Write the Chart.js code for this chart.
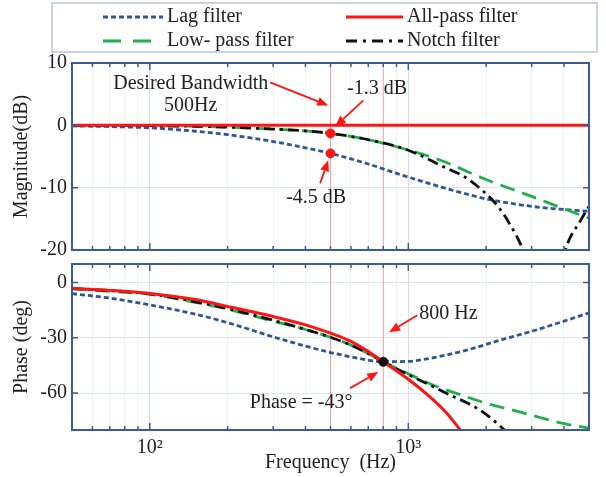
<!DOCTYPE html>
<html>
<head>
<meta charset="utf-8">
<script src="https://cdn.jsdelivr.net/npm/chart.js@4.4.0/dist/chart.umd.min.js"></script>
<style>
  html, body { margin: 0; padding: 0; background: #fff; }
  #wrap { position: relative; width: 606px; height: 477px; }
  canvas { position: absolute; left: 0; top: 0; }
</style>
</head>
<body>
<div id="wrap">
  <canvas id="magChart" width="606" height="477"></canvas>
  <canvas id="phaseChart" width="606" height="477"></canvas>
</div>
<script>
// axes
const freqTicks = [50, 60, 70, 80, 90, 100, 200, 300, 400, 500, 600, 700, 800, 900, 1000, 2000, 3000, 4000, 5000];
const magTicks = [10, 0, -10, -20];
const phaseTicks = [0, -30, -60];
const markerFreqs = [500, 800];

// magnitude (dB)
const lagMagFreq = [50, 70, 100, 150, 200, 300, 400, 500, 700, 930, 1200, 1450, 2000, 3000, 4000, 5000];
const lagMag = [-0.1, -0.2, -0.4, -0.95, -1.5, -2.6, -3.6, -4.5, -6.2, -7.9, -9.3, -10.3, -11.8, -13.0, -13.5, -13.8];
const allMagFreq = [50, 5000];
const allMag = [0, 0];
const lowMagFreq = [50, 100, 150, 200, 300, 400, 500, 700, 930, 1330, 2000, 3000, 4000, 5000];
const lowMag = [0, -0.05, -0.15, -0.3, -0.6, -0.9, -1.3, -2.3, -3.6, -5.6, -8.7, -11.4, -13.4, -14.9];
const notchMagFreq = [50, 100, 150, 200, 300, 400, 500, 700, 1000, 1330, 1700, 2000, 2150, 2400, 2780, 3000, 3300, 3600, 4050, 4650, 5000];
const notchMag = [0, -0.05, -0.15, -0.3, -0.6, -0.9, -1.3, -2.3, -4.0, -6.4, -8.6, -11.0, -12.3, -15.0, -20.0, -24.0, -35.0, -30.0, -20.0, -15.2, -13.0];
const markMagFreq = [500, 500];
const markMag = [-1.3, -4.5];

// phase (deg)
const lagPhFreq = [50, 70, 100, 150, 200, 300, 400, 500, 600, 800, 1000, 1250, 1700, 2300, 3000, 4000, 5000];
const lagPh = [-6.1, -8.5, -12.2, -17.2, -21.8, -29.5, -34.5, -38, -40.3, -43, -42.8, -40.8, -36.5, -31, -26.5, -21, -16.5];
const allPhFreq = [50, 70, 100, 150, 200, 300, 400, 500, 600, 700, 800, 1000, 1200, 1400, 1600];
const allPh = [-3.2, -4.3, -6, -9.3, -13, -18.5, -23, -27.5, -32, -37.5, -43, -52.5, -61.5, -70.5, -80.5];
const lowPhFreq = [50, 70, 100, 150, 200, 300, 400, 500, 600, 700, 800, 1000, 1250, 1600, 2000, 2500, 3000, 4000, 5000];
const lowPh = [-3.5, -4.8, -6.5, -10.8, -14.5, -21, -25.5, -29.7, -34, -38.5, -43, -49.5, -55.7, -61, -65.5, -69, -72, -76.5, -79];
const notchPhFreq = [50, 100, 150, 200, 300, 400, 500, 600, 700, 800, 1000, 1250, 1500, 1700, 2000, 2400];
const notchPh = [-3.3, -6.2, -10.5, -14.2, -20.5, -25.5, -29.7, -34, -38.5, -43, -50, -56.5, -62, -65.5, -71.5, -81];
const markPhFreq = [800];
const markPh = [-43];

const LAG = '#2f5597', LOW = '#1fb04c', ALL = '#ff1414', NOTCH = '#111111';
const FRAME = '#3a5b98';

Chart.defaults.font.family = "'Liberation Serif', 'Times New Roman', serif";
Chart.defaults.font.size = 20;
Chart.defaults.color = '#222';

function pts(xs, ys) {
    return xs.map((x, i) => ({ x: x, y: ys[i] }));
}

function curve(label, xs, ys, color, dash, width, order) {
    return {
        label: label, data: pts(xs, ys), borderColor: color, borderDash: dash,
        borderWidth: width, pointRadius: 0, fill: false, order: order,
        cubicInterpolationMode: 'monotone'
    };
}

function vlines(ymin, ymax) {
    return markerFreqs.map(f => ({
        data: [{ x: f, y: ymin }, { x: f, y: ymax }],
        borderColor: 'rgba(255, 90, 90, 0.55)', borderWidth: 1,
        pointRadius: 0, order: 20
    }));
}

function markers(xs, ys, color) {
    return {
        data: pts(xs, ys), showLine: false, pointRadius: 4.5,
        pointBackgroundColor: color, pointBorderColor: color, order: 0
    };
}

// frame + inward tick marks
const framePlugin = {
    id: 'frame',
    afterDatasetsDraw(chart) {
        const { ctx, chartArea: a, scales: { x, y } } = chart;
        ctx.save();
        ctx.strokeStyle = FRAME;
        ctx.lineWidth = 1.5;
        ctx.beginPath();
        freqTicks.forEach(f => {
            const px = x.getPixelForValue(f);
            const len = (f === 100 || f === 1000) ? 7 : 4;
            ctx.moveTo(px, a.top); ctx.lineTo(px, a.top + len);
            ctx.moveTo(px, a.bottom); ctx.lineTo(px, a.bottom - len);
        });
        y.ticks.forEach(t => {
            const py = y.getPixelForValue(t.value);
            ctx.moveTo(a.left, py); ctx.lineTo(a.left + 6, py);
            ctx.moveTo(a.right, py); ctx.lineTo(a.right - 6, py);
        });
        ctx.stroke();
        ctx.lineWidth = 2;
        ctx.strokeRect(a.left, a.top, a.right - a.left, a.bottom - a.top);
        ctx.restore();
    }
};

// annotation texts and arrows, positioned in data units
const notesPlugin = {
    id: 'notes',
    afterDraw(chart, args, opts) {
        const { ctx, scales: { x, y } } = chart;
        ctx.save();
        ctx.font = "20px 'Liberation Serif', serif";
        ctx.fillStyle = '#222';
        ctx.textAlign = 'center';
        ctx.textBaseline = 'middle';
        (opts.texts || []).forEach(t => {
            ctx.fillText(t.text, x.getPixelForValue(t.f), y.getPixelForValue(t.v));
        });
        ctx.strokeStyle = ALL;
        ctx.fillStyle = ALL;
        ctx.lineWidth = 1.8;
        (opts.arrows || []).forEach(ar => {
            const x1 = x.getPixelForValue(ar.from[0]), y1 = y.getPixelForValue(ar.from[1]);
            const x2 = x.getPixelForValue(ar.to[0]), y2 = y.getPixelForValue(ar.to[1]);
            const ang = Math.atan2(y2 - y1, x2 - x1);
            const hl = 11, hw = 4.5;
            const bx = x2 - hl * Math.cos(ang), by = y2 - hl * Math.sin(ang);
            ctx.beginPath();
            ctx.moveTo(x1, y1); ctx.lineTo(bx, by);
            ctx.stroke();
            ctx.beginPath();
            ctx.moveTo(x2, y2);
            ctx.lineTo(bx + hw * Math.sin(ang), by - hw * Math.cos(ang));
            ctx.lineTo(bx - hw * Math.sin(ang), by + hw * Math.cos(ang));
            ctx.closePath();
            ctx.fill();
        });
        ctx.restore();
    }
};

// two-column boxed legend
const legendPlugin = {
    id: 'boxLegend',
    afterDraw(chart) {
        const ctx = chart.ctx;
        const sets = chart.data.datasets.filter(d => d.label);
        const slots = [
            { x0: 103, x1: 163, y: 17 }, { x0: 103, x1: 163, y: 41 },
            { x0: 346, x1: 403, y: 17 }, { x0: 346, x1: 403, y: 41 }
        ];
        const order = ['Lag filter', 'Low- pass filter', 'All-pass filter', 'Notch filter'];
        const legendDash = { 'Lag filter': [5, 3], 'Low- pass filter': [18, 12], 'All-pass filter': [], 'Notch filter': [11, 6, 3, 6] };
        ctx.save();
        ctx.strokeStyle = '#b9c6d8';
        ctx.lineWidth = 1.5;
        ctx.strokeRect(52, 3, 545, 49);
        order.forEach((name, i) => {
            const d = sets.find(s => s.label === name);
            const s = slots[i];
            ctx.strokeStyle = d.borderColor;
            ctx.lineWidth = 3;
            ctx.setLineDash(legendDash[name]);
            ctx.beginPath();
            ctx.moveTo(s.x0, s.y); ctx.lineTo(s.x1, s.y);
            ctx.stroke();
            ctx.setLineDash([]);
            ctx.font = "20px 'Liberation Serif', serif";
            ctx.fillStyle = '#222';
            ctx.textBaseline = 'middle';
            ctx.fillText(name, s.x1 + 4, s.y);
        });
        ctx.restore();
    }
};

function gridColor(c) {
    const v = c.tick && c.tick.value;
    return (v === 100 || v === 1000) ? '#d3dcea' : '#eef1f6';
}

function xAxis(showLabels) {
    return {
        type: 'logarithmic', min: 50, max: 5000,
        afterBuildTicks: s => { s.ticks = freqTicks.map(v => ({ value: v })); },
        afterFit: s => { s.height = showLabels ? 47 : 0; },
        border: { display: false },
        grid: { color: gridColor, drawTicks: false },
        ticks: {
            display: showLabels, autoSkip: false, maxRotation: 0, padding: 6,
            callback: v => v === 100 ? '10²' : (v === 1000 ? '10³' : '')
        },
        title: { display: showLabels, text: 'Frequency  (Hz)', padding: { top: 0, bottom: 2 } }
    };
}

function yAxis(min, max, tickList, title) {
    return {
        min: min, max: max,
        afterBuildTicks: s => { s.ticks = tickList.map(v => ({ value: v })); },
        afterFit: s => { s.width = 72; },
        border: { display: false },
        grid: { color: '#dfe5ef', drawTicks: false },
        ticks: { padding: 5 },
        title: { display: true, text: title, padding: { top: 10, bottom: 0 } }
    };
}

const common = {
    responsive: false, animation: false, devicePixelRatio: 1, events: [],
    plugins: { legend: { display: false }, tooltip: { enabled: false } }
};

new Chart(document.getElementById('magChart'), {
    type: 'line',
    data: {
        datasets: [
            ...vlines(-20, 10),
            curve('Lag filter', lagMagFreq, lagMag, LAG, [5, 3], 2.8, 4),
            curve('All-pass filter', allMagFreq, allMag, ALL, [], 3, 1),
            curve('Low- pass filter', lowMagFreq, lowMag, LOW, [15, 8], 2.8, 3),
            curve('Notch filter', notchMagFreq, notchMag, NOTCH, [11, 5, 3, 5], 2.8, 2),
            markers(markMagFreq, markMag, ALL)
        ]
    },
    options: {
        ...common,
        layout: { padding: { top: 63, bottom: 227, left: 0, right: 17 } },
        scales: { x: xAxis(false), y: yAxis(-20, 10, magTicks, 'Magnitude(dB)') },
        plugins: {
            ...common.plugins,
            notes: {
                texts: [
                    { text: 'Desired Bandwidth', f: 144, v: 6.7 },
                    { text: '500Hz', f: 144, v: 3.2 },
                    { text: '-1.3 dB', f: 757, v: 5.9 },
                    { text: '-4.5 dB', f: 440, v: -11.6 }
                ],
                arrows: [
                    { from: [292, 6.9], to: [490, 3.2] },
                    { from: [670, 4.0], to: [521, -0.2] },
                    { from: [456, -9.3], to: [490, -5.6] }
                ]
            }
        }
    },
    plugins: [framePlugin, notesPlugin, legendPlugin]
});

new Chart(document.getElementById('phaseChart'), {
    type: 'line',
    data: {
        datasets: [
            ...vlines(-80, 10),
            curve('Lag filter', lagPhFreq, lagPh, LAG, [5, 3], 2.8, 4),
            curve('All-pass filter', allPhFreq, allPh, ALL, [], 3, 1),
            curve('Low- pass filter', lowPhFreq, lowPh, LOW, [15, 8], 2.8, 3),
            curve('Notch filter', notchPhFreq, notchPh, NOTCH, [11, 5, 3, 5], 2.8, 2),
            markers(markPhFreq, markPh, NOTCH)
        ]
    },
    options: {
        ...common,
        layout: { padding: { top: 264, bottom: 0, left: 0, right: 17 } },
        scales: { x: xAxis(true), y: yAxis(-80, 10, phaseTicks, 'Phase (deg)') },
        plugins: {
            ...common.plugins,
            notes: {
                texts: [
                    { text: '800 Hz', f: 1429, v: -16.8 },
                    { text: 'Phase = -43°', f: 385, v: -65.4 }
                ],
                arrows: [
                    { from: [1084, -17.8], to: [843, -27] },
                    { from: [596, -57.3], to: [765, -48.6] }
                ]
            }
        }
    },
    plugins: [framePlugin, notesPlugin]
});
</script>
</body>
</html>
